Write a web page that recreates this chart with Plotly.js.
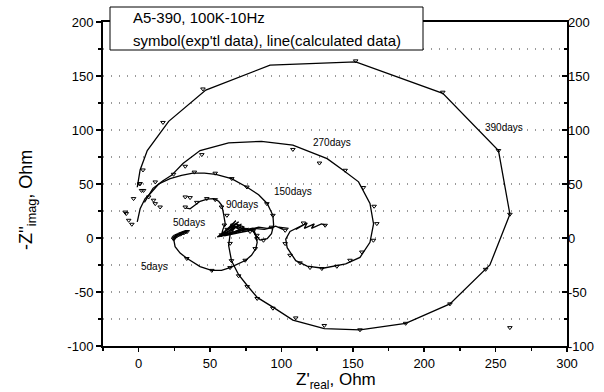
<!DOCTYPE html>
<html>
<head>
<meta charset="utf-8">
<script src="https://cdn.plot.ly/plotly-3.0.1.min.js"></script>
<style>html,body{margin:0;padding:0;background:#fff;}#chart{width:604px;height:392px;}</style>
</head>
<body>
<div id="chart"></div>
<script>
// ---- data (Z'real, -Z''imag in Ohm) ----
const calc390X = [-1, 1, 6, 21, 47, 92, 152, 213, 252, 260, 246, 218, 187, 155, 130, 108, 94, 83, 76, 70, 65, 63, 64, 67, 63, 70, 66];
const calc390Y = [47, 63, 81, 108, 137, 160, 163, 134, 81, 22, -25, -61, -79, -85, -84, -76, -64, -55, -44, -34, -21, -7, 3, 9, 5, 12, 8];
const exp390X = [2, 0.6, 3, 17, 45, 152, 213, 252, 260, 243, 218, 187, 155, 130, 110, 94, 83, 76, 70, 65, 64, 260];
const exp390Y = [44, 50, 63, 107, 138, 164, 135, 81, 22, -29, -61, -79, -85, -81, -74, -65, -56, -45, -35, -21, -5, -83];

const calc270X = [4, 10, 17, 23, 31, 43, 63, 86, 108, 132, 143, 154, 162, 164.5, 162, 155, 145, 129, 118, 110, 104, 103, 106, 111, 115, 110, 118, 116, 123, 121, 128, 131];
const calc270Y = [33, 46, 53, 58, 69, 81, 88, 89.5, 86, 73.5, 63, 52, 32, 13, -4, -18, -24, -28, -26, -21, -9, -1, 6, 9, 12, 8, 14, 9, 13, 9, 13, 12];
const exp270X = [11.6, 24.4, 32.6, 44.2, 108, 126.6, 144.6, 157.4, 164.9, 166.8, 164.4, 156.3, 148, 138.8, 128.3, 120, 113, 106, 102.6, 102.6, 115.4, 130.6];
const exp270Y = [51.9, 59, 66.4, 77.2, 82, 69.4, 62.7, 46.7, 29.4, 13.3, -2.1, -13, -20.6, -26.2, -28.3, -27.4, -23, -16, -5.2, 7.1, 13.9, 11.8];

const calc150X = [-1, 1, 4.5, 8, 14, 22, 30, 38, 46, 54, 65, 76, 84, 90, 94, 94.5, 93, 90, 85, 82, 80.4, 84, 90, 96, 101, 98, 105];
const calc150Y = [15, 27, 36.5, 41, 50, 55, 58, 60, 60, 59, 55, 47, 40, 32, 21, 12, 4, -0.6, -2, 2.5, 8.7, 10, 9, 11, 8, 10, 9];
const exp150X = [-9.5, -7, -4.8, -3.6, -8.7, 1, 3.4, 7, 10.4, 11.6, 15, 39, 53.6, 65.2, 75.8, 89.8, 94, 93, 87.4, 82.8];
const exp150Y = [24, 16.4, 12.7, 36.5, 22.6, 50.4, 44, 38, 35, 31.8, 28.7, 61, 60, 55, 47.2, 31.8, 21, 10, -2.1, 2.5];

const calc90X = [33, 36, 40, 43, 48, 52.4, 56, 58.2, 59.4, 60.6, 59, 58.2, 62, 68, 74, 66, 72, 80, 88, 95];
const calc90Y = [28, 27, 31, 34, 36, 36.5, 34, 30.3, 22.6, 13.3, 8, 4, 8, 13, 10, 5, 7, 9, 8, 10];
const exp90X = [32.6, 32.6, 36, 40.7, 47.7, 53.6, 58, 61.8, 60];
const exp90Y = [28.7, 38, 37.4, 33, 36.5, 35.5, 28.7, 21, 12];

const calc50X = [56, 63, 68, 58, 72, 57, 77, 61, 70, 55, 79, 64, 74, 60, 80];
const calc50Y = [1, 9, 16, 3, 13, 2, 9, 4, 15, 1, 7, 12, 6, 2, 8];
const exp50X = [58, 62, 66, 70, 74, 78];
const exp50Y = [3, 8, 12, 10, 8, 6];

const calc5X = [34, 30, 26, 24.5, 25.5, 29, 34, 43, 51, 58, 64, 70, 75, 79, 82, 83, 82, 80, 74, 68, 62, 57];
const calc5Y = [6, 4.5, 2, -1, -8, -14, -19, -26.5, -30, -30, -27.4, -24, -20.6, -16, -10, -4, 2, 7, 8, 5, 3, 2];
const exp5X = [34, 33, 32, 31, 30, 29, 28, 27, 26, 25.3, 24.8, 24.5, 33.7, 51.2, 64, 74.6, 81.6, 82.8, 80.4];
const exp5Y = [6, 5.6, 5.1, 4.6, 4.1, 3.5, 2.9, 2.3, 1.6, 0.8, 0, -1, -19, -30, -27.4, -20.6, -9.8, -0.6, 7];

const seriesNames = ['390days', '270days', '150days', '90days', '50days', '5days'];
const labelX = [256, 135.6, 107.8, 72.3, 35.4, 10.9];
const labelY = [102, 88.6, 42.6, 31.2, 14.5, -26.2];

const yTickVals = [-100, -50, 0, 50, 100, 150, 200];
const yTickText = ['-100', '-50', '0', '50', '100', '150', '200'];
const xTickVals = [0, 50, 100, 150, 200, 250, 300];
const xTickText = ['0', '50', '100', '150', '200', '250', '300'];
const titleLine1 = 'A5-390, 100K-10Hz';
const titleLine2 = "symbol(exp'tl data), line(calculated data)";

// ---- traces ----
const calcs = [[calc390X, calc390Y], [calc270X, calc270Y], [calc150X, calc150Y], [calc90X, calc90Y], [calc50X, calc50Y], [calc5X, calc5Y]];
const exps = [[exp390X, exp390Y], [exp270X, exp270Y], [exp150X, exp150Y], [exp90X, exp90Y], [exp50X, exp50Y], [exp5X, exp5Y]];
const traces = [];
calcs.forEach((c, i) => {
  traces.push({x: c[0], y: c[1], mode: 'lines', type: 'scatter', name: seriesNames[i] + ' calc',
    line: {color: '#000', width: 1.3}, hoverinfo: 'skip', showlegend: false});
});
exps.forEach((e, i) => {
  traces.push({x: e[0], y: e[1], mode: 'markers', type: 'scatter', name: seriesNames[i] + ' exp',
    marker: {symbol: 'triangle-down-open', size: 4, color: '#000', line: {width: 1, color: '#000'}},
    hoverinfo: 'skip', showlegend: false});
});
traces.push({x: [], y: [], yaxis: 'y2', type: 'scatter', mode: 'markers', showlegend: false});

const W = 604, H = 392, L = 103, R = 37, T = 22, B = 46;
const pw = W - L - R, ph = H - T - B;
const px = v => (v - L) / pw;
const py = v => (H - B - v) / ph;

const fam = '"Liberation Sans", Arial, sans-serif';
const annotations = seriesNames.map((n, i) => ({
  x: labelX[i], y: labelY[i], xref: 'x', yref: 'y', text: n, showarrow: false,
  font: {family: fam, size: 10, color: '#000'}
}));
annotations.push({xref: 'paper', yref: 'paper', x: px(131), y: py(18), xanchor: 'left', yanchor: 'middle',
  text: titleLine1, showarrow: false, font: {family: fam, size: 15, color: '#000'}});
annotations.push({xref: 'paper', yref: 'paper', x: px(131), y: py(40), xanchor: 'left', yanchor: 'middle',
  text: titleLine2, showarrow: false, font: {family: fam, size: 15, color: '#000'}});
annotations.push({xref: 'paper', yref: 'paper', x: px(27), y: py(200), xanchor: 'center', yanchor: 'middle',
  textangle: -90, text: "-Z''<sub>imag</sub>, Ohm", showarrow: false, font: {family: fam, size: 18, color: '#000'}});
annotations.push({xref: 'paper', yref: 'paper', x: px(336), y: py(393), xanchor: 'center', yanchor: 'bottom',
  text: "Z'<sub>real</sub>, Ohm", showarrow: false, borderpad: 0, font: {family: fam, size: 17, color: '#000'}});

const layout = {
  width: W, height: H,
  margin: {l: L, r: R, t: T, b: B, pad: 0},
  paper_bgcolor: '#fff', plot_bgcolor: '#fff',
  showlegend: false,
  font: {family: fam, color: '#000', size: 13},
  xaxis: {
    range: [-25, 300], tickvals: xTickVals, ticktext: xTickText, ticks: 'outside', ticklen: 4, tickwidth: 1.5, tickcolor: '#000',
    showline: true, linewidth: 2, linecolor: '#000', mirror: true, showgrid: false, zeroline: false,
    tickfont: {family: fam, size: 13, color: '#000'},
    minor: {dtick: 25, tick0: 0, ticks: 'outside', ticklen: 3, tickcolor: '#000', showgrid: false},
    automargin: false
  },
  yaxis: {
    range: [-100, 200], tickvals: yTickVals, ticktext: yTickText, ticks: 'outside', ticklen: 5, tickwidth: 1.5, tickcolor: '#000',
    showline: true, linewidth: 2, linecolor: '#000', mirror: true, showgrid: false, zeroline: false,
    tickfont: {family: fam, size: 13, color: '#000'},
    minor: {dtick: 25, tick0: 0, ticks: 'outside', ticklen: 3, tickcolor: '#000', showgrid: true,
      gridcolor: '#999', griddash: '1px,7px', gridwidth: 1.2},
    automargin: false
  },
  yaxis2: {
    overlaying: 'y', side: 'right', range: [-100, 200], tickvals: yTickVals, ticktext: yTickText, ticks: 'inside', ticklen: 5,
    tickwidth: 1.5, tickcolor: '#000', showline: false, showgrid: false, zeroline: false,
    tickfont: {family: fam, size: 13, color: '#000'},
    minor: {dtick: 25, tick0: 0, ticks: 'inside', ticklen: 3, tickcolor: '#000', showgrid: false},
    automargin: false
  },
  shapes: [{type: 'rect', xref: 'paper', yref: 'paper', x0: px(110), x1: px(423), y0: py(50), y1: py(7),
    line: {color: '#000', width: 1}, fillcolor: '#fff', layer: 'above'}],
  annotations: annotations
};

Plotly.newPlot('chart', traces, layout, {staticPlot: true, displayModeBar: false});
</script>
</body>
</html>
